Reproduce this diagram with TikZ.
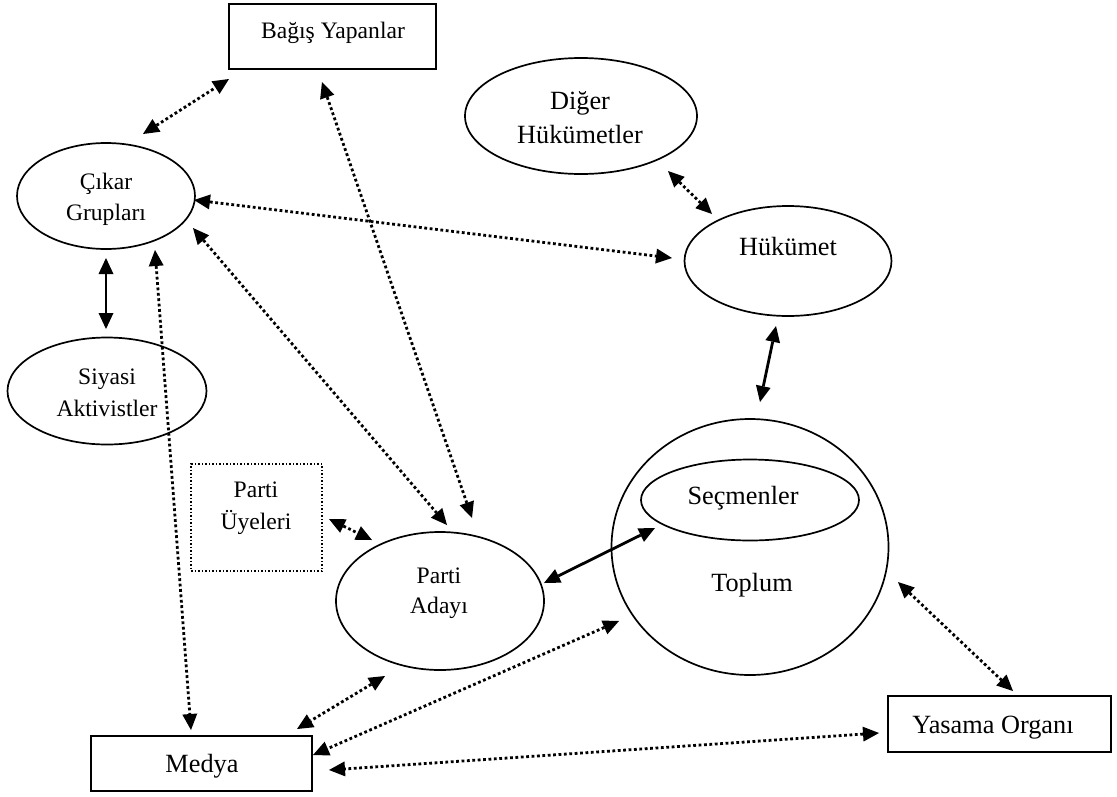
\documentclass[tikz,border=0pt]{standalone}
\usepackage{fontspec}
\setmainfont{Liberation Serif}
\usetikzlibrary{arrows.meta,shapes.geometric,calc}
\begin{document}
\begin{tikzpicture}[x=1pt,y=-1pt,
  oval/.style={draw,ellipse,inner sep=0pt,line width=1.7pt},
  box/.style={draw,rectangle,inner sep=0pt,line width=2.1pt},
  dotbox/.style={draw,rectangle,inner sep=0pt,line width=1.5pt,dash pattern=on 1.5pt off 2pt},
  small/.style={inner sep=0pt,anchor=base,font=\fontsize{23.6}{28}\selectfont},
  large/.style={inner sep=0pt,anchor=base,font=\fontsize{26.3}{31}\selectfont},
  head/.style={Triangle[length=16pt,width=15pt,line width=0pt]},
  link/.style={{Triangle[length=16pt,width=15pt,line width=0pt]}-{Triangle[length=16pt,width=15pt,line width=0pt]},
    line width=2.8pt,dash pattern=on 2.8pt off 2.6pt},
  solidlink/.style={{Triangle[length=16pt,width=15pt,line width=0pt]}-{Triangle[length=16pt,width=15pt,line width=0pt]},
    line width=2.8pt},
]
\useasboundingbox (0,0) rectangle (1117,796);

% shapes
\node[box,minimum width=207pt,minimum height=65pt] (bagis) at (332.5,36.5) {};
\node[oval,minimum width=232pt,minimum height=116pt] (diger) at (581,116) {};
\node[oval,minimum width=178pt,minimum height=106pt] (cikar) at (106,196) {};
\node[oval,minimum width=207pt,minimum height=110pt] (hukumet) at (788,261) {};
\node[oval,minimum width=199pt,minimum height=107pt] (siyasi) at (107,391) {};
\node[dotbox,minimum width=131pt,minimum height=107pt] (uyeler) at (256.5,517.5) {};
\node[oval,minimum width=208pt,minimum height=138pt] (adayi) at (440,601) {};
\node[oval,minimum width=277pt,minimum height=256pt] (toplum) at (750,547) {};
\node[oval,minimum width=218pt,minimum height=81pt] (secmen) at (750,500) {};
\node[box,minimum width=221pt,minimum height=55pt] (medya) at (201.5,763.5) {};
\node[box,minimum width=223pt,minimum height=56pt] (yasama) at (999.5,724) {};

% labels
\node[small] (bagis-t) at (333,38) {Bağış Yapanlar};
\node[large] (diger-t1) at (580,109) {Diğer};
\node[large] (diger-t2) at (580,143) {Hükümetler};
\node[small] (cikar-t1) at (106,189) {Çıkar};
\node[small] (cikar-t2) at (106,220) {Grupları};
\node[large] (hukumet-t) at (788,255) {Hükümet};
\node[small] (siyasi-t1) at (107,384) {Siyasi};
\node[small] (siyasi-t2) at (107,416) {Aktivistler};
\node[small] (uyeler-t1) at (256,497) {Parti};
\node[small] (uyeler-t2) at (256,529) {Üyeleri};
\node[small] (adayi-t1) at (439,583) {Parti};
\node[small] (adayi-t2) at (439,613) {Adayı};
\node[large] (secmen-t) at (743,504) {Seçmenler};
\node[large] (toplum-t) at (752,591) {Toplum};
\node[large] (medya-t) at (202,772) {Medya};
\node[large] (yasama-t) at (993,733) {Yasama Organı};

% connectors
\draw[link] ($(cikar)+(37,-62)$) -- ($(bagis)+(-103.5,42.5)$);
\draw[link] ($(bagis)+(-10.5,45.5)$) -- ($(adayi)+(32,-83)$);
\draw[link] ($(cikar)+(88,4)$) -- ($(hukumet)+(-116,-3)$);
\draw[link] ($(cikar)+(87,32)$) -- ($(adayi)+(7,-76)$);
\draw[solidlink] ($(cikar)+(0,62)$) -- ($(siyasi)+(-1,-62)$);
\draw[link] ($(cikar)+(49,54)$) -- ($(medya)+(-10.5,-33.5)$);
\draw[link] ($(diger)+(87,55)$) -- ($(hukumet)+(-76,-47)$);
\draw[solidlink] ($(hukumet)+(-12,65)$) -- ($(toplum)+(10,-145)$);
\draw[link] ($(uyeler)+(72.5,1.5)$) -- ($(adayi)+(-68,-61)$);
\draw[solidlink] ($(adayi)+(104,-18)$) -- ($(secmen)+(-95,28)$);
\draw[link] ($(toplum)+(148,35)$) -- ($(yasama)+(13.5,-33)$);
\draw[link] ($(adayi)+(-55,75)$) -- ($(medya)+(95.5,-34.5)$);
\draw[link] ($(toplum)+(-131,74)$) -- ($(medya)+(111.5,-8.5)$);
\draw[link] ($(yasama)+(-120.5,9)$) -- ($(medya)+(127.5,6.5)$);
\end{tikzpicture}
\end{document}
